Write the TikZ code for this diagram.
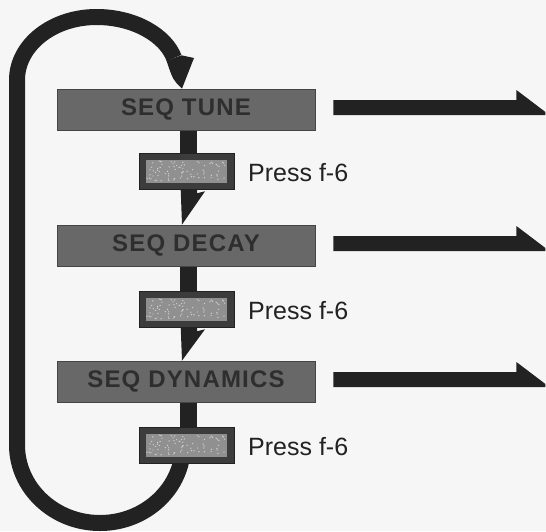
\documentclass[tikz,border=0pt]{standalone}
\usepackage{fontspec}
\setmainfont{Liberation Sans}
\newfontfamily\boxfont[LetterSpace=5]{Liberation Sans}
\usetikzlibrary{calc}
\definecolor{bg}{HTML}{F6F6F6}
\definecolor{ink}{HTML}{222222}
\definecolor{boxfill}{HTML}{686868}
\definecolor{boxline}{HTML}{454545}
\definecolor{boxtext}{HTML}{2E2E2E}
\definecolor{keyframe}{HTML}{3C3C3C}
\definecolor{keyfill}{HTML}{909090}
\definecolor{speck}{HTML}{D0D0D0}
\pgfdeclarelayer{bgfill}
\pgfdeclarelayer{background}
\pgfsetlayers{bgfill,background,main}
\begin{document}
\begin{tikzpicture}[x=1pt,y=-1pt,
  menubox/.style={draw=boxline, line width=0.8pt, fill=boxfill, minimum width=258pt,
    minimum height=41pt, inner sep=0pt, text=boxtext,
    font=\boxfont\bfseries\fontsize{24}{24}\selectfont},
  keybox/.style={draw=ink, line width=0.6pt, fill=keyframe, minimum width=95pt,
    minimum height=36pt, inner sep=0pt,
    path picture={
      \fill[keyfill] ($(path picture bounding box.south west)+(7,-6.5)$) rectangle
                     ($(path picture bounding box.north east)+(-7,6.5)$);
      \pgfmathsetseed{7}
      \foreach \k in {1,...,80}{
        \fill[speck] ($(path picture bounding box.south west)+({8+79*rnd},{-8-20*rnd})$) circle (0.7pt);}
    }},
  presslabel/.style={anchor=base west, inner sep=0pt, text=ink,
    font=\fontsize{25}{25}\selectfont},
  thickline/.style={draw=ink, line width=16pt},
  ]
\begin{pgfonlayer}{bgfill}
  \fill[bg] (0,0) rectangle (546,531);
\end{pgfonlayer}
\useasboundingbox (0,0) rectangle (546,531);

% menu boxes
\node[menubox] (b1) at (186,109.5) {SEQ TUNE};
\node[menubox] (b2) at (186,245.5) {SEQ DECAY};
\node[menubox] (b3) at (186,381.5) {SEQ DYNAMICS};
% key boxes
\node[keybox] (s1) at (186.5,171) {};
\node[keybox] (s2) at (186.5,309) {};
\node[keybox] (s3) at (186.5,445) {};
% labels
\node[presslabel] (p1) at (248,181) {Press f-6};
\node[presslabel] (p2) at (248,319) {Press f-6};
\node[presslabel] (p3) at (248,455) {Press f-6};

\coordinate (xl) at (180,0);
\coordinate (xr) at (197,0);
\coordinate (ls) at ($(s3.center)+(-3.5,0)$);

\begin{pgfonlayer}{background}
  % vertical stems and heads
  \fill[ink] (xl |- b1.center) rectangle (xr |- s1.center);
  \fill[ink] (xl |- s1.center) -- (xr |- s1.center) -- ($(xr |- s1.south)+(0,4)$)
     -- ($(xr |- s1.south)+(8,2)$) -- ($(xl |- b2.north)+(2,0)$) -- cycle;
  \fill[ink] (xl |- b2.center) rectangle (xr |- s2.center);
  \fill[ink] (xl |- s2.center) -- (xr |- s2.center) -- ($(xr |- s2.south)+(0,4)$)
     -- ($(xr |- s2.south)+(8,2)$) -- ($(xl |- b3.north)+(2,0)$) -- cycle;
  \fill[ink] (xl |- b3.center) rectangle (xr |- s3.center);
  % return loop
  \draw[thickline] (ls) .. controls (183,488) and (145.8,523) .. (100,523)
     .. controls (54.2,523) and (17,488) .. (17,445) -- (17,80)
     .. controls (17,45) and (52.6,17) .. (96.5,17)
     .. controls (135,17) and (166,36) .. (174,58);
  \fill[ink] (166.5,60.7) -- (181.5,55.3) -- (194,58) -- ($(xl |- b1.north)+(2,0)$)
     .. controls (173,80) .. (166.5,60.7) -- cycle;
\end{pgfonlayer}

% output arrows
\foreach \b in {b1,b2,b3}{
  \fill[ink] ($(\b.east)+(18,-9.5)$) -- ++(183,0) -- ++(0,-10) -- ++(29,22)
     -- ++(0,3) -- ++(-212,0) -- cycle;
}
\end{tikzpicture}
\end{document}
